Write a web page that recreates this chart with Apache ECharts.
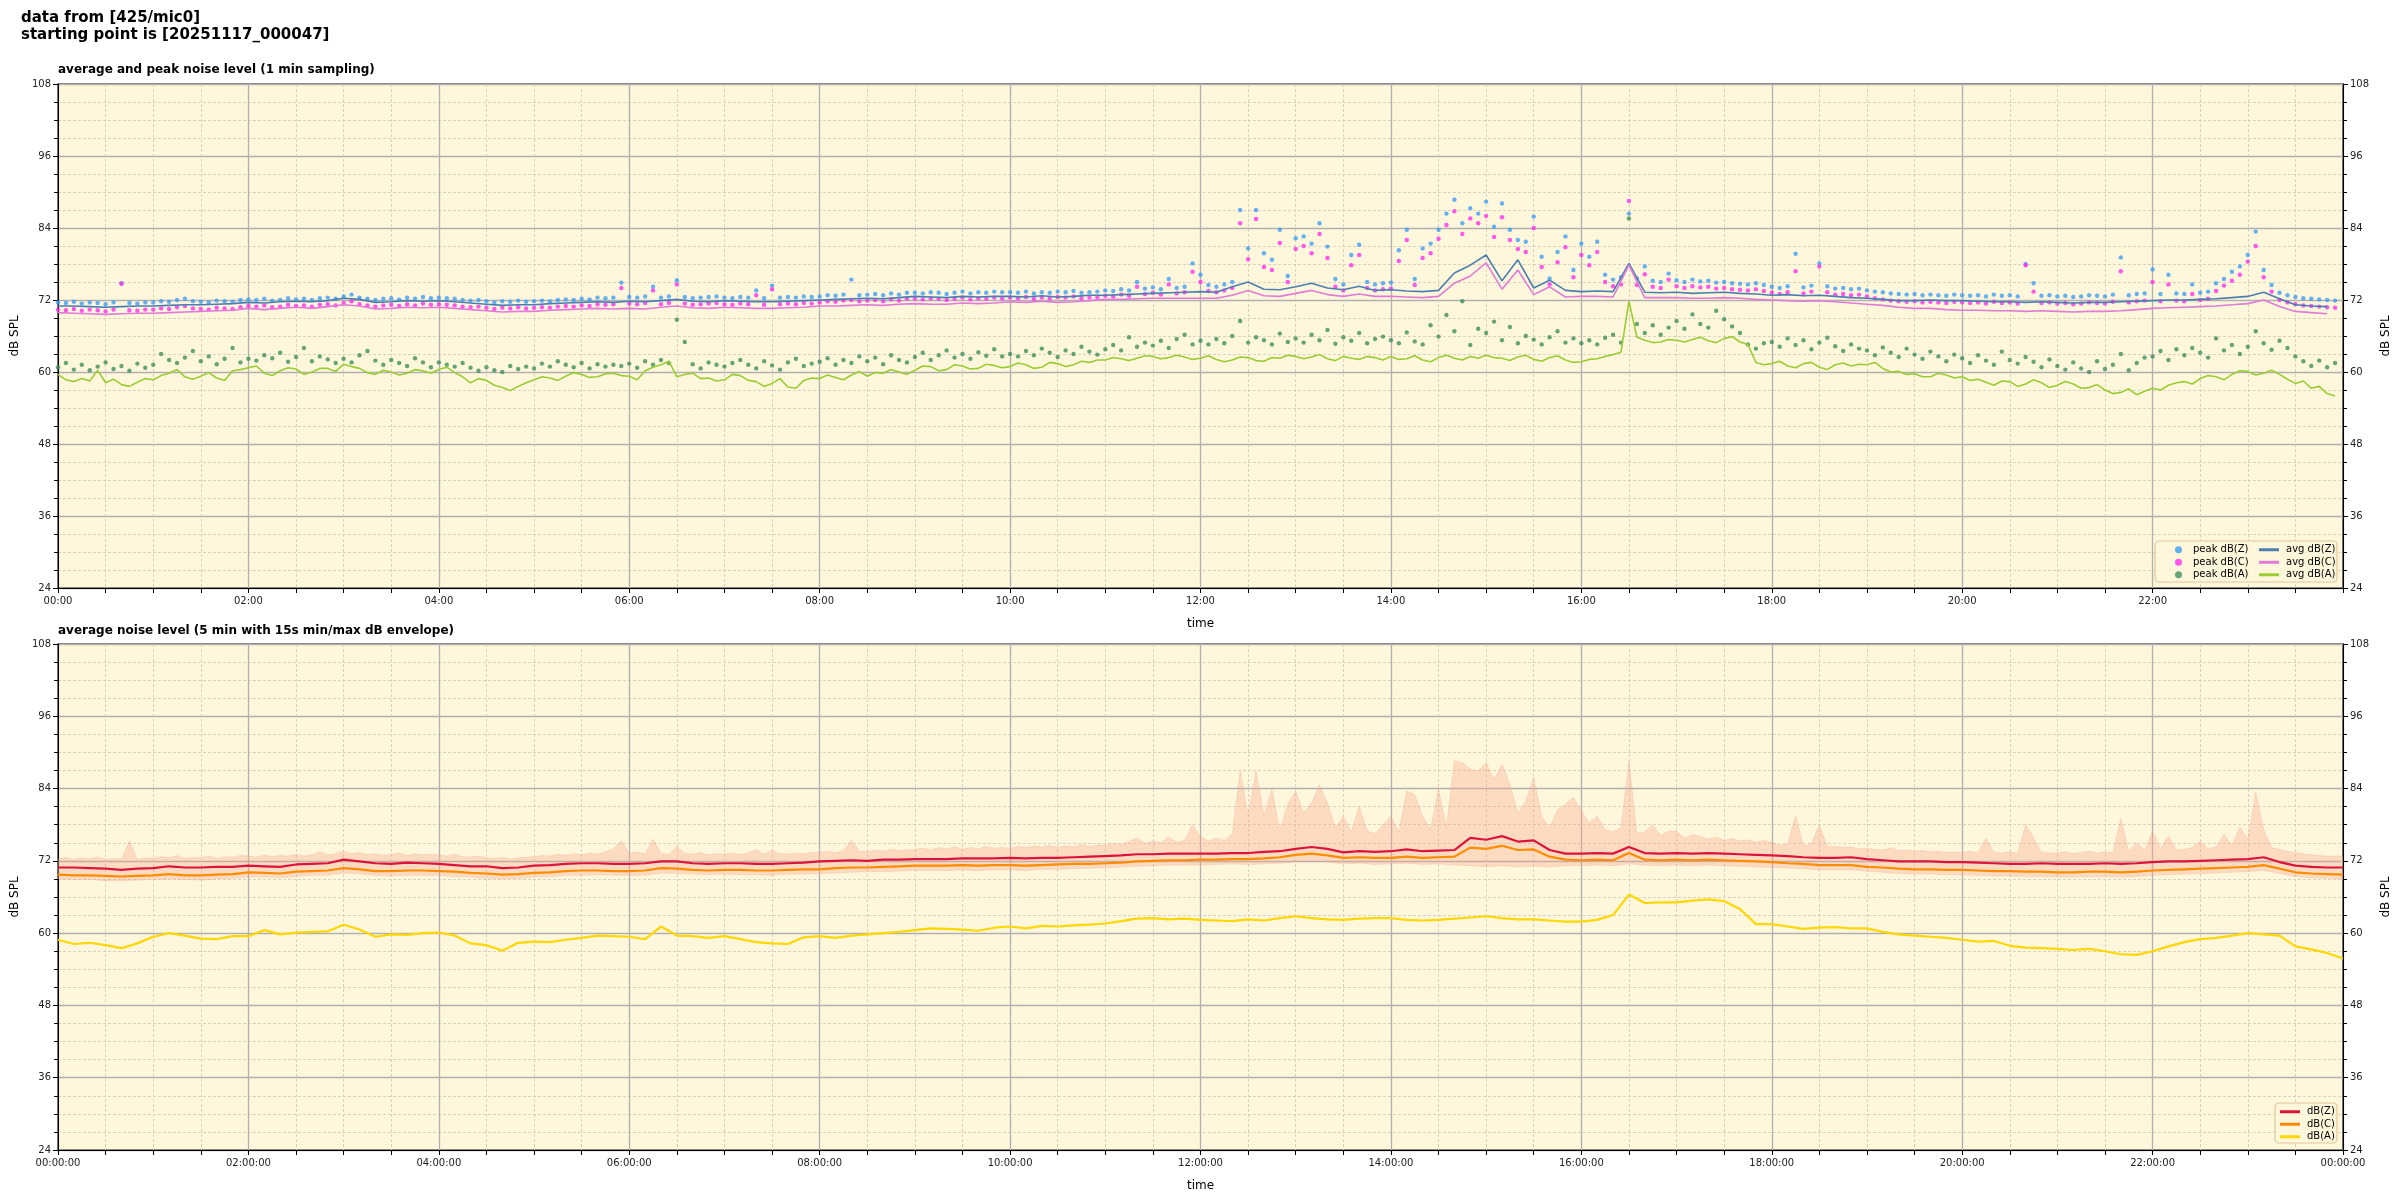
<!DOCTYPE html>
<html><head><meta charset="utf-8">
<script src="https://cdn.jsdelivr.net/npm/echarts@6/dist/echarts.min.js"></script>
<style>html,body{margin:0;padding:0;background:#fff}#c{width:2400px;height:1200px}</style>
</head><body><div id="c"></div>
<script>
// ---------- DATA ----------
const figTitle = 'data from [425/mic0]\nstarting point is [20251117_000047]';
const topTitle = 'average and peak noise level (1 min sampling)';
const bottomTitle = 'average noise level (5 min with 15s min/max dB envelope)';
const yMin = 24, yMax = 108, yStep = 12;
const topTickLabels = ['00:00','02:00','04:00','06:00','08:00','10:00','12:00','14:00','16:00','18:00','20:00','22:00'];
const bottomTickLabels = ['00:00:00','02:00:00','04:00:00','06:00:00','08:00:00','10:00:00','12:00:00','14:00:00','16:00:00','18:00:00','20:00:00','22:00:00','00:00:00'];

// peaks, one value every 5 minutes (12 per hour)
const peakZ = [
71.6,71.5,71.7,71.4,71.6,71.5,71.3,71.6,74.8,71.5,71.4,71.6,
71.6,71.8,71.7,72.0,72.2,71.8,71.7,71.6,71.9,71.8,71.7,72.0,
72.1,72.0,72.2,71.9,72.0,72.3,72.1,72.2,72.0,72.3,72.4,72.2,
72.6,72.9,72.4,72.2,72.0,72.2,72.3,72.1,72.4,72.2,72.5,72.3,
72.4,72.3,72.2,72.0,71.9,72.0,71.8,71.6,71.8,71.7,71.9,71.7,
71.8,71.9,71.8,72.0,72.1,72.0,72.2,72.1,72.4,72.3,72.4,74.9,
72.5,72.4,72.6,74.2,72.4,72.6,75.3,72.5,72.3,72.4,72.5,72.6,
72.4,72.3,72.5,72.4,73.6,72.3,74.4,72.4,72.5,72.4,72.6,72.5,
72.6,72.8,72.7,72.9,75.4,72.8,72.9,73.0,72.8,73.1,72.9,73.2,
73.2,73.1,73.3,73.2,73.0,73.2,73.4,73.1,73.3,73.2,73.4,73.3,
73.3,73.2,73.4,73.1,73.3,73.2,73.4,73.3,73.5,73.2,73.3,73.4,
73.6,73.5,73.8,73.6,75.0,73.9,74.1,73.8,75.5,74.0,74.2,78.1,
76.2,74.5,74.2,74.6,75.0,87.0,80.6,87.0,79.8,78.7,83.7,76.0,
82.3,82.6,81.4,84.8,80.9,75.5,74.6,79.5,81.2,75.0,74.6,74.8,
74.9,80.3,83.7,75.5,80.6,81.4,83.7,86.4,88.7,84.8,87.3,86.4,
88.4,84.2,88.1,83.7,82.0,81.7,85.9,79.2,75.6,80.0,82.6,77.0,
81.4,79.2,81.7,76.2,75.4,75.8,86.4,75.6,77.6,75.2,75.0,76.4,
75.3,75.0,75.4,75.1,75.2,74.9,75.0,74.8,74.7,74.6,74.8,74.5,
74.2,74.0,74.3,79.7,74.1,74.4,78.1,74.3,73.9,74.0,73.8,73.9,
73.6,73.4,73.3,73.1,73.0,72.9,73.0,72.8,72.9,72.8,72.7,72.9,
72.8,72.7,72.8,72.6,72.9,72.7,72.8,72.6,78.0,74.8,72.7,72.8,
72.6,72.7,72.5,72.6,72.8,72.7,72.6,72.9,79.1,72.8,73.0,73.1,
77.1,73.0,76.2,73.1,73.0,74.6,73.2,73.4,74.8,75.5,76.7,77.6,
79.5,83.4,77.0,74.5,73.2,72.8,72.5,72.3,72.2,72.1,72.0,71.9];

const peakC = [
70.4,70.3,70.5,70.2,70.4,70.3,70.1,70.4,74.7,70.3,70.2,70.4,
70.4,70.6,70.5,70.8,71.0,70.6,70.5,70.4,70.7,70.6,70.5,70.8,
71.0,70.9,71.1,70.8,70.9,71.2,71.0,71.1,70.9,71.2,71.3,71.1,
71.5,71.8,71.3,71.1,70.9,71.1,71.2,71.0,71.3,71.1,71.4,71.2,
71.3,71.2,71.1,70.9,70.8,70.9,70.7,70.5,70.7,70.6,70.8,70.6,
70.7,70.8,70.7,70.9,71.0,70.9,71.1,71.0,71.3,71.2,71.3,74.0,
71.4,71.3,71.5,73.6,71.3,71.5,74.6,71.4,71.2,71.3,71.4,71.5,
71.3,71.2,71.4,71.3,72.8,71.2,73.8,71.3,71.4,71.3,71.5,71.4,
71.6,71.8,71.7,71.9,72.0,71.8,71.9,72.0,71.8,72.1,71.9,72.2,
72.2,72.1,72.3,72.2,72.0,72.2,72.4,72.1,72.3,72.2,72.4,72.3,
72.4,72.3,72.5,72.2,72.4,72.3,72.5,72.4,72.6,72.3,72.4,72.5,
72.7,72.6,72.9,72.7,74.2,73.0,73.2,72.9,74.6,73.1,73.3,76.7,
75.0,73.5,73.3,73.6,74.0,84.8,78.8,85.5,77.5,77.0,81.5,75.0,
80.5,81.0,79.8,83.0,79.0,74.2,73.6,77.8,79.5,74.0,73.6,73.8,
73.9,78.5,82.0,74.5,79.0,79.8,82.2,84.5,86.8,83.0,85.6,84.8,
86.0,82.5,85.8,82.0,80.5,80.0,84.0,77.5,74.6,78.3,80.8,75.8,
79.5,77.8,80.0,75.0,74.3,74.6,88.5,74.5,76.3,74.2,74.0,75.4,
74.3,74.0,74.3,74.1,74.2,73.9,74.0,73.8,73.7,73.6,73.8,73.5,
73.2,73.0,73.3,76.8,73.1,73.4,77.6,73.3,72.9,73.0,72.8,72.9,
72.6,72.3,72.1,71.9,71.8,71.7,71.8,71.6,71.7,71.6,71.5,71.7,
71.6,71.5,71.6,71.4,71.7,71.5,71.6,71.4,77.8,73.4,71.5,71.6,
71.4,71.5,71.3,71.4,71.6,71.5,71.4,71.7,76.8,71.6,71.8,71.9,
75.0,71.8,74.6,71.9,71.8,73.0,72.0,72.2,73.5,74.4,75.2,76.2,
78.4,81.0,75.8,73.4,72.0,71.6,71.3,71.1,71.0,70.9,70.8,70.7];

const peakA = [
60.8,61.5,60.4,61.2,60.3,60.9,61.6,60.5,61.0,60.2,61.4,60.7,
61.2,63.0,62.0,61.5,62.4,63.5,61.8,62.6,61.3,62.2,64.0,61.6,
62.2,61.9,62.8,62.3,63.2,61.7,62.5,64.0,61.8,62.6,62.1,61.5,
62.2,61.6,62.8,63.5,61.9,61.2,62.0,61.5,61.0,62.3,61.6,60.8,
61.6,61.2,60.9,61.5,60.7,60.2,60.8,60.3,60.0,61.0,60.5,60.9,
60.6,61.4,60.9,61.8,61.2,60.8,61.5,60.6,61.3,60.9,61.2,61.0,
61.4,60.7,61.8,61.2,62.0,61.5,68.7,65.0,61.3,60.6,61.6,61.2,
60.9,61.5,62.0,61.2,60.6,61.8,61.1,60.4,61.6,62.2,61.0,61.4,
61.7,62.3,61.2,62.0,61.5,62.6,61.8,62.4,61.3,62.8,62.0,61.6,
62.5,63.2,62.0,62.8,63.6,62.4,63.0,62.2,63.3,62.7,63.8,62.6,
63.0,62.6,63.5,62.8,63.9,63.2,62.5,63.6,63.0,64.2,63.4,62.9,
63.8,64.5,63.6,65.8,64.2,64.9,64.4,65.2,64.0,65.5,66.2,64.6,
65.2,64.6,65.5,64.8,66.0,68.5,64.9,65.8,65.3,64.6,66.4,65.0,
65.6,64.9,66.2,65.3,67.0,64.7,65.8,65.2,66.5,64.8,65.5,65.9,
65.3,64.8,66.6,65.1,64.6,67.8,65.9,69.5,66.8,71.8,64.5,67.2,
66.5,68.4,65.3,67.5,64.8,66.0,65.4,64.6,65.8,66.8,64.9,65.6,
64.8,65.3,64.6,65.7,66.2,64.9,85.6,68.0,66.5,67.8,66.2,67.4,
68.5,67.2,69.6,68.0,67.4,70.2,68.8,67.6,66.5,64.6,63.9,64.8,
65.0,64.2,65.6,64.5,65.3,63.8,64.9,65.7,64.3,63.5,64.6,63.9,
63.6,62.8,64.1,63.2,62.5,63.9,62.9,62.2,63.4,62.6,61.8,62.9,
62.3,61.5,62.8,61.9,61.2,63.4,62.0,61.4,62.5,61.7,60.8,62.1,
61.0,60.4,61.6,60.6,60.0,61.8,60.5,61.2,63.0,60.3,61.5,62.4,
62.6,63.5,62.0,63.8,62.8,64.0,63.2,62.4,65.6,63.6,64.5,63.0,
64.2,66.8,64.8,63.7,65.2,64.0,62.6,61.8,61.0,61.9,60.8,61.5];

// averages (1 min sampling): Z and C one value every 10 minutes, A every 5 minutes
const avgZ = [
71.0,71.0,70.9,70.8,70.9,71.0, 71.0,71.1,71.2,71.2,71.3,71.4,
71.6,71.5,71.7,71.8,71.7,71.9, 72.3,72.1,71.6,71.7,71.9,71.8,
71.9,71.7,71.5,71.3,71.1,71.2, 71.2,71.4,71.5,71.6,71.7,71.6,
71.8,71.7,71.9,72.1,71.8,71.7, 71.9,71.8,71.7,71.7,71.8,71.9,
72.0,72.1,72.2,72.3,72.2,72.4, 72.6,72.5,72.4,72.6,72.5,72.6,
72.6,72.5,72.7,72.5,72.6,72.8, 72.8,72.9,73.0,73.1,73.2,73.3,
73.4,73.3,74.2,75.0,73.8,73.7, 74.2,74.8,74.0,73.7,74.3,73.6,
73.7,73.5,73.4,73.6,76.5,77.8, 79.5,75.2,78.7,74.0,75.3,73.6,
73.4,73.5,73.4,78.1,73.3,73.2, 73.3,73.1,73.2,73.3,73.1,73.0,
72.8,72.9,72.7,72.8,72.6,72.4, 72.3,72.1,71.9,71.9,72.0,71.9,
71.9,71.8,71.7,71.7,71.6,71.7, 71.6,71.5,71.6,71.6,71.7,71.8,
71.9,72.0,72.0,72.1,72.2,72.4, 72.6,73.3,72.2,71.2,71.0,70.9];

const avgC = [
69.9,69.8,69.7,69.6,69.7,69.8, 69.8,69.9,70.0,70.1,70.2,70.3,
70.6,70.4,70.6,70.8,70.6,70.9, 71.2,71.0,70.5,70.6,70.8,70.7,
70.8,70.6,70.4,70.2,70.0,70.1, 70.1,70.3,70.4,70.5,70.6,70.5,
70.6,70.5,70.8,71.0,70.7,70.6, 70.8,70.7,70.6,70.6,70.7,70.8,
71.0,71.0,71.1,71.2,71.1,71.3, 71.4,71.3,71.3,71.5,71.4,71.5,
71.7,71.6,71.8,71.6,71.7,71.9, 72.1,72.1,72.2,72.3,72.3,72.3,
72.3,72.3,72.8,73.6,72.7,72.6, 73.1,73.6,72.9,72.6,73.0,72.6,
72.6,72.5,72.4,72.6,74.8,76.0, 78.2,73.8,77.0,72.9,74.2,72.5,
72.6,72.6,72.5,77.8,72.4,72.4, 72.4,72.3,72.3,72.4,72.3,72.1,
72.0,71.9,71.8,71.9,71.7,71.5, 71.3,71.1,70.8,70.6,70.6,70.4,
70.3,70.3,70.2,70.2,70.1,70.2, 70.1,70.0,70.1,70.1,70.2,70.4,
70.6,70.7,70.8,70.9,71.0,71.2, 71.4,72.0,70.9,70.1,69.9,69.7];

const avgA = [
59.6,58.7,58.4,58.9,58.5,60.3,58.2,58.8,57.9,57.6,58.3,58.9,
58.7,59.4,59.8,60.4,59.2,58.8,59.3,59.9,59.0,58.6,60.2,60.4,
60.7,61.0,59.8,59.4,60.2,60.7,60.5,59.6,60.0,60.6,60.6,60.1,
61.3,60.9,60.6,59.9,59.6,60.3,60.0,59.5,59.8,60.4,60.2,59.8,
60.4,60.8,59.9,59.2,58.2,58.9,58.6,57.8,57.4,56.9,57.6,58.2,
58.7,59.2,59.0,58.6,59.3,59.9,59.6,59.1,59.2,59.7,59.8,59.4,
59.3,58.7,60.2,60.8,61.2,61.8,59.2,59.6,59.8,58.9,59.0,58.5,
58.7,59.6,59.4,58.6,58.4,57.6,58.1,58.9,57.5,57.3,58.6,59.0,
58.9,59.5,59.1,58.7,59.5,60.1,59.3,59.9,59.8,60.4,60.0,59.6,
60.3,61.0,60.9,60.2,60.4,61.2,61.0,60.5,60.6,61.3,61.1,60.7,
60.9,61.5,61.2,60.6,60.8,61.6,61.4,60.9,61.2,61.8,61.6,62.0,
62.0,62.4,62.2,61.9,62.3,62.7,62.6,62.2,62.4,62.8,62.5,62.1,
62.3,62.7,62.1,61.7,62.0,62.5,62.4,61.9,61.8,62.4,62.3,62.8,
62.6,62.2,62.5,62.9,62.2,61.9,62.6,62.3,62.1,62.6,62.4,62.0,
62.6,62.1,62.2,62.7,62.0,61.7,62.4,62.8,62.3,62.0,62.6,62.3,
62.8,62.4,62.3,61.9,62.5,62.8,62.1,61.8,62.4,62.7,62.0,61.6,
61.7,62.1,62.2,62.6,62.9,63.3,71.8,65.8,65.3,64.9,65.0,65.4,
65.3,65.0,65.4,65.8,65.2,64.9,65.6,65.9,65.0,64.6,61.6,61.2,
61.4,61.8,61.0,60.7,61.4,61.6,60.8,60.4,61.2,61.5,61.0,61.3,
61.2,61.6,60.6,60.0,60.1,59.6,59.7,59.2,59.2,59.8,59.5,59.0,
59.2,58.6,58.8,58.3,57.8,58.5,58.4,57.6,58.0,58.7,58.2,57.4,
57.8,58.4,58.0,57.3,57.4,57.9,57.0,56.4,56.6,57.2,56.2,56.8,
57.3,57.0,57.8,58.2,58.4,58.0,58.9,59.4,59.2,58.7,59.6,60.2,
60.1,59.5,59.8,60.3,59.6,58.8,58.1,58.5,57.3,57.6,56.4,56.0];

// 5 min averages, one value every 10 minutes, 00:00 .. 24:00
const dbZ = [
70.9,70.9,70.8,70.7,70.5,70.7, 70.8,71.1,70.9,70.9,71.0,71.0,
71.2,71.1,71.0,71.4,71.5,71.6, 72.2,71.9,71.6,71.5,71.7,71.6,
71.5,71.3,71.1,71.1,70.8,70.9, 71.2,71.3,71.5,71.6,71.6,71.5,
71.5,71.6,71.9,71.9,71.6,71.5, 71.6,71.6,71.5,71.5,71.6,71.7,
71.9,72.0,72.1,72.0,72.2,72.2, 72.3,72.3,72.3,72.4,72.4,72.4,
72.5,72.4,72.5,72.5,72.6,72.7, 72.8,72.9,73.1,73.1,73.2,73.2,
73.2,73.2,73.3,73.3,73.5,73.6, 74.0,74.3,74.0,73.4,73.6,73.5,
73.6,73.9,73.6,73.7,73.8,75.8, 75.5,76.1,75.2,75.4,73.8,73.2,
73.2,73.3,73.2,74.3,73.3,73.2, 73.3,73.2,73.3,73.2,73.1,73.0,
72.9,72.8,72.6,72.5,72.5,72.6, 72.3,72.1,71.9,71.9,71.9,71.8,
71.8,71.7,71.6,71.5,71.5,71.6, 71.5,71.5,71.5,71.6,71.5,71.6,
71.8,71.9,71.9,72.0,72.1,72.2, 72.3,72.6,71.8,71.2,71.0,70.9, 70.9];

const dbC = [
69.7,69.6,69.6,69.5,69.4,69.5, 69.6,69.8,69.6,69.6,69.7,69.8,
70.1,70.0,69.9,70.2,70.3,70.4, 70.8,70.6,70.3,70.3,70.4,70.4,
70.3,70.2,70.0,69.9,69.7,69.8, 70.0,70.1,70.3,70.4,70.4,70.3,
70.3,70.4,70.8,70.7,70.5,70.4, 70.5,70.5,70.4,70.4,70.5,70.6,
70.6,70.8,70.9,70.9,71.0,71.1, 71.2,71.2,71.2,71.3,71.2,71.3,
71.3,71.2,71.3,71.4,71.5,71.5, 71.6,71.7,71.9,72.0,72.1,72.1,
72.2,72.2,72.3,72.3,72.4,72.6, 73.0,73.2,72.9,72.5,72.6,72.5,
72.5,72.7,72.5,72.6,72.7,74.2, 74.0,74.5,73.8,73.9,72.7,72.2,
72.1,72.2,72.1,73.3,72.2,72.1, 72.2,72.1,72.2,72.1,72.0,71.9,
71.8,71.6,71.5,71.3,71.3,71.3, 71.0,70.9,70.7,70.6,70.6,70.5,
70.5,70.4,70.3,70.3,70.2,70.2, 70.1,70.1,70.2,70.2,70.1,70.2,
70.4,70.5,70.6,70.7,70.8,70.9, 71.0,71.3,70.7,70.1,69.9,69.8, 69.7];

const dbA = [
58.9,58.2,58.4,58.0,57.5,58.3, 59.4,60.0,59.6,59.1,59.0,59.5,
59.5,60.5,59.8,60.1,60.2,60.3, 61.4,60.6,59.4,59.8,59.7,60.0,
60.1,59.6,58.3,58.0,57.1,58.4, 58.6,58.5,58.9,59.2,59.6,59.5,
59.4,59.0,61.1,59.6,59.5,59.2, 59.5,59.0,58.5,58.3,58.2,59.3,
59.5,59.2,59.6,59.8,60.0,60.2, 60.5,60.8,60.7,60.6,60.4,60.9,
61.1,60.8,61.2,61.1,61.3,61.4, 61.6,62.0,62.4,62.5,62.3,62.4,
62.2,62.1,62.0,62.3,62.1,62.5, 62.8,62.5,62.3,62.2,62.4,62.5,
62.5,62.2,62.1,62.2,62.4,62.6, 62.8,62.5,62.3,62.3,62.1,61.9,
61.9,62.2,63.0,66.4,65.0,65.1, 65.1,65.4,65.6,65.3,64.0,61.5,
61.5,61.1,60.7,60.9,61.0,60.8, 60.8,60.2,59.8,59.6,59.4,59.2,
58.9,58.6,58.7,57.9,57.6,57.5, 57.4,57.2,57.4,57.0,56.5,56.4,
57.0,57.8,58.5,59.0,59.2,59.6, 60.0,59.8,59.6,57.8,57.3,56.7, 55.8];

// 15 s envelope: max every 5 minutes, min every 10 minutes, 00:00 .. 24:00
const envMax = [
72.3,72.6,72.2,72.5,72.3,72.7,72.2,72.4,72.3,75.3,72.2,72.5,
72.4,72.7,72.5,72.9,72.4,72.6,72.5,72.8,72.4,72.7,72.6,72.9,
72.8,72.6,73.0,72.7,72.9,72.8,73.1,72.8,73.0,73.5,73.0,73.2,
73.6,73.2,73.4,73.0,73.2,72.9,73.1,73.3,72.9,73.2,73.0,73.1,
73.0,72.8,73.1,72.7,72.6,72.8,72.5,72.4,72.6,72.3,72.5,72.6,
72.7,72.9,72.8,73.1,72.9,73.2,73.0,73.3,73.1,73.5,74.0,75.3,
73.2,73.5,73.1,75.6,73.3,73.0,74.4,73.2,73.1,73.4,73.0,73.2,
73.1,73.3,73.0,73.4,73.8,73.1,73.8,73.2,73.1,73.3,73.2,73.4,
73.4,73.6,73.3,73.7,75.4,73.6,73.5,73.8,73.6,73.9,73.7,73.8,
73.9,74.1,73.8,74.2,74.0,74.3,73.9,74.2,74.0,74.4,74.1,74.2,
74.1,74.4,74.2,74.5,74.3,74.6,74.2,74.5,74.3,74.7,74.4,74.6,
74.6,74.9,74.7,75.2,75.8,74.9,75.3,75.0,75.9,75.1,75.4,78.0,
76.0,75.3,75.8,75.4,76.5,86.9,79.5,86.9,79.5,83.9,77.0,81.5,
83.5,80.0,81.6,84.6,81.6,77.5,79.4,76.8,81.1,77.0,76.5,78.0,
79.4,76.8,83.6,83.0,79.4,77.2,83.9,77.5,88.6,88.3,87.2,86.9,
88.3,85.5,88.0,84.7,80.0,81.9,85.8,79.4,77.5,80.5,81.4,82.5,
80.3,78.3,79.4,77.2,76.8,77.5,88.6,76.5,76.8,78.0,76.2,76.9,
76.9,75.8,76.3,76.1,75.6,75.9,75.4,75.7,75.3,75.5,75.1,75.4,
75.0,74.6,74.8,79.5,74.5,74.8,78.0,74.4,74.4,74.2,74.3,74.0,
74.1,73.9,73.8,74.1,73.7,73.8,73.6,73.7,73.5,73.6,73.4,73.5,
73.4,73.6,73.3,75.8,73.4,73.3,73.5,73.2,78.0,75.8,73.4,73.3,
73.3,73.5,73.2,73.4,73.6,73.3,73.5,73.4,79.0,73.6,75.0,73.8,
76.9,74.0,76.1,73.8,73.9,74.2,75.3,74.0,74.3,76.4,74.5,77.6,
75.5,83.4,77.2,74.2,73.9,73.6,73.4,73.2,73.0,72.9,72.8,72.8, 72.8];

const envMin = [
69.0,68.9,68.9,68.7,68.7,68.8, 68.9,69.0,68.9,68.8,69.0,69.1,
69.3,69.3,69.2,69.4,69.6,69.6, 70.0,69.8,69.6,69.5,69.6,69.6,
69.6,69.4,69.3,69.1,69.0,69.1, 69.3,69.4,69.6,69.6,69.7,69.6,
69.6,69.6,70.0,69.9,69.8,69.7, 69.8,69.7,69.7,69.6,69.8,69.8,
69.9,70.0,70.1,70.2,70.2,70.3, 70.4,70.4,70.4,70.5,70.4,70.5,
70.5,70.4,70.6,70.6,70.7,70.8, 70.8,71.0,71.1,71.2,71.3,71.3,
71.3,71.4,71.5,71.4,71.5,71.6, 71.8,72.0,71.8,71.5,71.6,71.4,
71.5,71.6,71.4,71.5,71.3,71.2, 71.0,71.2,71.0,71.1,71.0,71.2,
71.2,71.3,71.2,71.5,71.3,71.2, 71.3,71.2,71.3,71.2,71.1,71.0,
70.9,70.8,70.7,70.5,70.5,70.5, 70.3,70.1,69.9,69.8,69.8,69.7,
69.7,69.6,69.5,69.5,69.4,69.4, 69.3,69.3,69.4,69.4,69.3,69.4,
69.6,69.7,69.8,69.9,70.0,70.1, 70.2,70.4,69.9,69.4,69.2,69.1, 69.0];

// ---------- CHART ----------
const FONT = 'DejaVu Sans';
const pairs = (arr, step) => arr.map((v, i) => [i * step, v]);

function xAxis(gridIndex, labels) {
  return {
    type: 'value', gridIndex, min: 0, max: 1440, interval: 120,
    name: 'time', nameLocation: 'middle', nameGap: 30,
    nameTextStyle: { fontSize: 12, color: '#000', fontFamily: FONT },
    axisLine: { show: true, onZero: false, lineStyle: { color: '#000', width: 1 } },
    axisTick: { show: true, length: 5, lineStyle: { color: '#000' } },
    minorTick: { show: true, splitNumber: 4, length: 5, lineStyle: { color: '#000' } },
    axisLabel: { fontSize: 10, color: '#222', fontFamily: FONT, margin: 8,
      showMaxLabel: true,
      formatter: v => { const k = Math.round(v / 120); return labels[k] !== undefined ? labels[k] : ''; } },
    splitLine: { show: true, lineStyle: { color: '#b0b0b0', width: 1.3 } },
    minorSplitLine: { show: true, lineStyle: { color: '#cfc8b8', width: 0.8, type: [3, 2] } }
  };
}
function yAxes(gridIndex) {
  const common = {
    type: 'value', gridIndex, min: yMin, max: yMax, interval: yStep,
    name: 'dB SPL', nameLocation: 'middle', nameGap: 34, nameRotate: 90,
    nameTextStyle: { fontSize: 12, color: '#000', fontFamily: FONT },
    axisLine: { show: true, lineStyle: { color: '#000', width: 1 } },
    axisTick: { show: true, length: 5, lineStyle: { color: '#000' } },
    minorTick: { show: true, splitNumber: 4, length: 4, lineStyle: { color: '#000' } },
    axisLabel: { fontSize: 10, color: '#222', fontFamily: FONT, margin: 7 }
  };
  return [
    Object.assign({}, common, { position: 'left',
      splitLine: { show: true, lineStyle: { color: '#b0b0b0', width: 1.3 } },
      minorSplitLine: { show: true, lineStyle: { color: '#cfc8b8', width: 0.8, type: [3, 2] } } }),
    Object.assign({}, common, { position: 'right', splitLine: { show: false }, minorSplitLine: { show: false } })
  ];
}

const C = {
  peakZ: '#3d9df5', peakC: '#ff2ef0', peakA: '#3f8f5c',
  avgZ: '#4a7fb0', avgC: '#e07bd6', avgA: '#9acd32',
  dbZ: '#dc143c', dbC: '#ff8c00', dbA: '#ffd700'
};
const scatter = (name, arr, color) => ({ name, type: 'scatter', xAxisIndex: 0, yAxisIndex: 0,
  data: pairs(arr, 5), symbol: 'circle', symbolSize: 4.4, itemStyle: { color }, z: 3, silent: true });
const line = (name, arr, step, color, xi, yi, w) => ({ name, type: 'line', xAxisIndex: xi, yAxisIndex: yi,
  data: pairs(arr, step), showSymbol: false, symbol: 'none', lineStyle: { color, width: w }, itemStyle: { color }, z: 4, silent: true });

// envelope polygon: upper edge along envMax, back along envMin, placed with the axis scales
function renderEnvelope(params, api) {
  const pts = [];
  for (let i = 0; i < envMax.length; i++) pts.push(api.coord([i * 5, envMax[i]]));
  for (let i = envMin.length - 1; i >= 0; i--) pts.push(api.coord([i * 10, envMin[i]]));
  return { type: 'polygon', shape: { points: pts },
    style: { fill: 'rgba(248,165,140,0.34)', stroke: 'rgba(240,150,125,0.3)', lineWidth: 0.8 } };
}

const option = {
  backgroundColor: '#ffffff',
  animation: false,
  textStyle: { fontFamily: FONT },
  title: [
    { text: figTitle, left: 21, top: 10, padding: 0, textStyle: { fontSize: 15, fontWeight: 'bold', color: '#000', fontFamily: FONT, lineHeight: 17 } },
    { text: topTitle, left: 58, top: 64, padding: 0, textStyle: { fontSize: 12, fontWeight: 'bold', color: '#000', fontFamily: FONT } },
    { text: bottomTitle, left: 58, top: 625, padding: 0, textStyle: { fontSize: 12, fontWeight: 'bold', color: '#000', fontFamily: FONT } }
  ],
  grid: [
    { left: 58, right: 57, top: 84, height: 504, show: true, backgroundColor: '#fff7dc', borderColor: '#000', borderWidth: 1.2 },
    { left: 58, right: 57, top: 644, height: 506, show: true, backgroundColor: '#fff7dc', borderColor: '#000', borderWidth: 1.2 }
  ],
  xAxis: [ xAxis(0, topTickLabels), xAxis(1, bottomTickLabels) ],
  yAxis: [ ...yAxes(0), ...yAxes(1) ],
  graphic: [
    { type: 'rect', shape: { x: 2155, y: 541, width: 182, height: 41, r: 4 }, style: { fill: 'rgba(255,247,220,0.85)', stroke: '#e2c69c', lineWidth: 1.2 }, z: 90 },
    { type: 'rect', shape: { x: 2275, y: 1103, width: 62, height: 40, r: 4 }, style: { fill: 'rgba(255,247,220,0.85)', stroke: '#e2c69c', lineWidth: 1.2 }, z: 90 }
  ],
  legend: [
    { data: ['peak dB(Z)', 'peak dB(C)', 'peak dB(A)'], orient: 'vertical', left: 2175, top: 544, padding: 0,
      itemWidth: 7, itemHeight: 7, itemGap: 1, icon: 'circle', selectedMode: false, z: 100,
      textStyle: { fontSize: 10, color: '#000', fontFamily: FONT, lineHeight: 11.5, padding: [0, 0, 0, 6] } },
    { data: ['avg dB(Z)', 'avg dB(C)', 'avg dB(A)'], orient: 'vertical', left: 2259, top: 544, padding: 0,
      itemWidth: 20, itemHeight: 3, itemGap: 1, icon: 'rect', selectedMode: false, z: 100,
      textStyle: { fontSize: 10, color: '#000', fontFamily: FONT, lineHeight: 11.5, padding: [0, 0, 0, 2] } },
    { data: ['dB(Z)', 'dB(C)', 'dB(A)'], orient: 'vertical', left: 2280, top: 1106, padding: 0,
      itemWidth: 20, itemHeight: 3, itemGap: 1, icon: 'rect', selectedMode: false, z: 100,
      textStyle: { fontSize: 10, color: '#000', fontFamily: FONT, lineHeight: 11.5, padding: [0, 0, 0, 2] } }
  ],
  series: [
    scatter('peak dB(Z)', peakZ, C.peakZ),
    scatter('peak dB(C)', peakC, C.peakC),
    scatter('peak dB(A)', peakA, C.peakA),
    line('avg dB(Z)', avgZ, 10, C.avgZ, 0, 0, 1.6),
    line('avg dB(C)', avgC, 10, C.avgC, 0, 0, 1.6),
    line('avg dB(A)', avgA, 5, C.avgA, 0, 0, 1.6),
    { name: 'envelope', type: 'custom', xAxisIndex: 1, yAxisIndex: 2, data: [[0, envMin[0]]],
      encode: { x: 0, y: 1 }, renderItem: renderEnvelope, silent: true, z: 2, clip: true },
    line('dB(Z)', dbZ, 10, C.dbZ, 1, 2, 2.2),
    line('dB(C)', dbC, 10, C.dbC, 1, 2, 2.2),
    line('dB(A)', dbA, 10, C.dbA, 1, 2, 2.2)
  ]
};
echarts.init(document.getElementById('c'), null, { renderer: 'canvas' }).setOption(option);
</script>
</body></html>
